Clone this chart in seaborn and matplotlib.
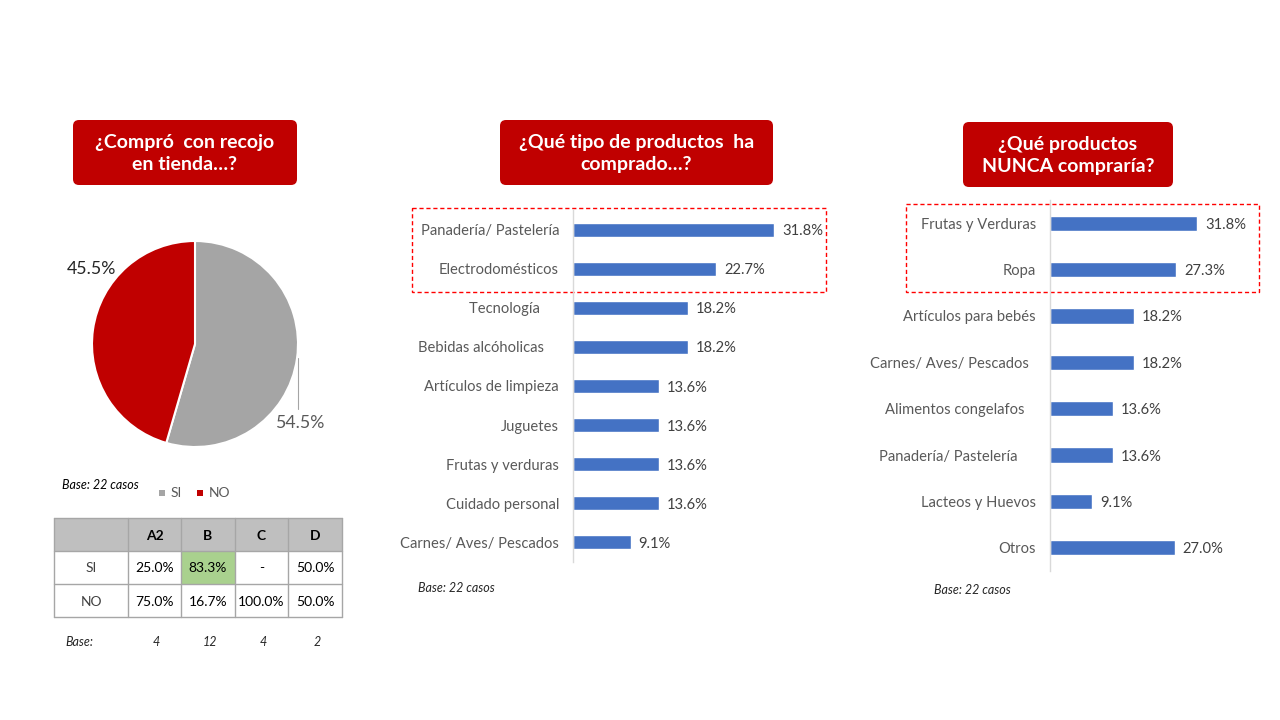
import matplotlib
matplotlib.use("Agg")
import matplotlib.pyplot as plt
import seaborn as sns
import pandas as pd
from matplotlib.patches import FancyBboxPatch, Rectangle

sns.set_theme(style="white")
plt.rcParams['font.family'] = ['Lato', 'DejaVu Sans']

# ---------------- data ----------------
pie_labels = ["SI", "NO"]
pie_values = [54.5, 45.5]
pie_colors = ["#A5A5A5", "#C00000"]

table_cols = ["A2", "B", "C", "D"]
table_rows = ["SI", "NO"]
table_si = ["25.0%", "83.3%", "-", "50.0%"]
table_no = ["75.0%", "16.7%", "100.0%", "50.0%"]
table_base = ["4", "12", "4", "2"]

mid_cats = ["Panadería/ Pastelería", "Electrodomésticos", "Tecnología     ", "Bebidas alcóholicas    ",
            "Artículos de limpieza", "Juguetes", "Frutas y verduras", "Cuidado personal",
            "Carnes/ Aves/ Pescados"]
mid_vals = [31.8, 22.7, 18.2, 18.2, 13.6, 13.6, 13.6, 13.6, 9.1]

right_cats = ["Frutas y Verduras", "Ropa", "Artículos para bebés", "Carnes/ Aves/ Pescados  ",
              "Alimentos congelafos   ", "Panadería/ Pastelería     ", "Lacteos y Huevos", "Otros"]
right_vals = [31.8, 27.3, 18.2, 18.2, 13.6, 13.6, 9.1, 27.0]

titles = ["¿Compró  con recojo\nen tienda…?", "¿Qué tipo de productos  ha\ncomprado…?",
          "¿Qué productos\nNUNCA compraría?"]

RED = "#C00000"
BLUE = "#4472C4"
W, H = 1280, 720

fig = plt.figure(figsize=(12.8, 7.2), dpi=100)

def px_axes(x0, y0, x1, y1, **kw):
    return fig.add_axes([x0 / W, (H - y1) / H, (x1 - x0) / W, (y1 - y0) / H], **kw)

# overlay for annotations
ov = fig.add_axes([0, 0, 1, 1], zorder=-1)
ov.set_xlim(0, W)
ov.set_ylim(H, 0)
ov.axis("off")

# title boxes
boxes = [(73, 120, 297, 185), (500, 120, 773, 185), (963, 122, 1173, 187)]
for (x0, y0, x1, y1), t in zip(boxes, titles):
    ov.add_patch(FancyBboxPatch((x0 + 6, y0 + 6), x1 - x0 - 12, y1 - y0 - 12,
                                boxstyle="round,pad=6", fc=RED, ec="none"))
    ov.text((x0 + x1) / 2, (y0 + y1) / 2 + 1, t, color="white", fontsize=14,
            fontweight="bold", ha="center", va="center", linespacing=1.3)

# dashed highlight rectangles
ov.add_patch(Rectangle((412, 208), 414, 84, fill=False, ec="#FF0000", ls=(0, (3, 2)), lw=1))
ov.add_patch(Rectangle((906, 204), 353, 88, fill=False, ec="#FF0000", ls=(0, (3, 2)), lw=1))

# ---------------- pie ----------------
pax = px_axes(92, 241, 298, 447)
pax.pie(pie_values, colors=pie_colors, startangle=90, counterclock=False,
        wedgeprops=dict(edgecolor="white", linewidth=1.5))
pax.set_xlim(-1, 1)
pax.set_ylim(-1, 1)
pax.set_aspect("equal")
ov.text(91, 267, f"{pie_values[1]:.1f}%", fontsize=12.8, color="#262626", ha="center", va="center_baseline")
ov.text(300, 422, f"{pie_values[0]:.1f}%", fontsize=12.8, color="#595959", ha="center", va="center_baseline")
ov.plot([298, 298], [358, 409], color="#A5A5A5", lw=0.8)

# legend
ov.text(62, 485, "Base: 22 casos", fontsize=9, style="italic", color="black", va="center")
lx = 162
for lab, col in zip(pie_labels, pie_colors):
    ov.add_patch(Rectangle((lx - 3, 490), 6, 6, fc=col, ec="none"))
    ov.text(lx + 9, 493, lab, fontsize=10, color="#595959", va="center")
    lx += 38

# ---------------- table ----------------
col_x = [54, 128, 181, 235, 288, 342]
row_y = [518, 551, 584, 617]
grid_color = "#A6A6A6"
ov.add_patch(Rectangle((col_x[0], row_y[0]), col_x[-1] - col_x[0], row_y[1] - row_y[0],
                       fc="#BFBFBF", ec="none"))
ov.add_patch(Rectangle((col_x[2], row_y[1]), col_x[3] - col_x[2], row_y[2] - row_y[1],
                       fc="#A9D18E", ec="none"))
for x in col_x:
    ov.plot([x, x], [row_y[0], row_y[-1]], color=grid_color, lw=1)
for y in row_y:
    ov.plot([col_x[0], col_x[-1]], [y, y], color=grid_color, lw=1)
cx = [(col_x[i] + col_x[i + 1]) / 2 for i in range(5)]
cy = [(row_y[i] + row_y[i + 1]) / 2 for i in range(3)]
for i, c in enumerate(table_cols):
    ov.text(cx[i + 1], cy[0], c, fontsize=10, fontweight="bold", ha="center", va="center_baseline", color="black")
for r, (lab, vals) in enumerate(zip(table_rows, [table_si, table_no])):
    ov.text(cx[0], cy[r + 1], lab, fontsize=10, ha="center", va="center_baseline", color="#404040")
    for i, v in enumerate(vals):
        ov.text(cx[i + 1], cy[r + 1], v, fontsize=10, ha="center", va="center_baseline", color="black")
ov.text(65, 642, "Base:", fontsize=9, style="italic", va="center")
for i, b in enumerate(table_base):
    ov.text(cx[i + 1] + 2, 642, b, fontsize=9, style="italic", va="center", ha="center")

# ---------------- bar charts ----------------
def bar_panel(x0, y0, y1, width, px_per_unit, cats, vals, barh, fs, pad):
    ax = px_axes(x0, y0, x0 + width, y1)
    df = pd.DataFrame({"cat": cats, "val": vals})
    sns.barplot(data=df, x="val", y="cat", orient="h", color=BLUE, width=barh,
                saturation=1, ax=ax)
    ax.set_xlim(0, width / px_per_unit)
    ax.set_ylim(len(cats) - 0.5, -0.5)
    for s in ["top", "right", "bottom"]:
        ax.spines[s].set_visible(False)
    ax.spines["left"].set_color("#D9D9D9")
    ax.spines["left"].set_linewidth(1)
    ax.set_xticks([])
    ax.set_xlabel("")
    ax.set_ylabel("")
    ax.tick_params(axis="y", length=0, pad=pad, labelsize=fs, labelcolor="#595959")
    for lab in ax.get_yticklabels():
        lab.set_verticalalignment("center_baseline")
    ax.patch.set_alpha(0)
    for i, v in enumerate(vals):
        ax.text(v + 8 / px_per_unit, i, f"{v:.1f}%", va="center_baseline", ha="left",
                fontsize=fs, color="#404040")
    return ax

bar_panel(573, 210, 562, 250, (774 - 573) / 31.8, mid_cats, mid_vals, 0.36, 10.6, 10)
ov.text(418, 588, "Base: 22 casos", fontsize=9, style="italic", va="center")

bar_panel(1050, 200, 571, 210, (1197 - 1050) / 31.8, right_cats, right_vals, 0.33, 10.6, 10)
ov.text(934, 590, "Base: 22 casos", fontsize=9, style="italic", va="center")

fig.savefig("out.png", dpi=100, facecolor="white")
